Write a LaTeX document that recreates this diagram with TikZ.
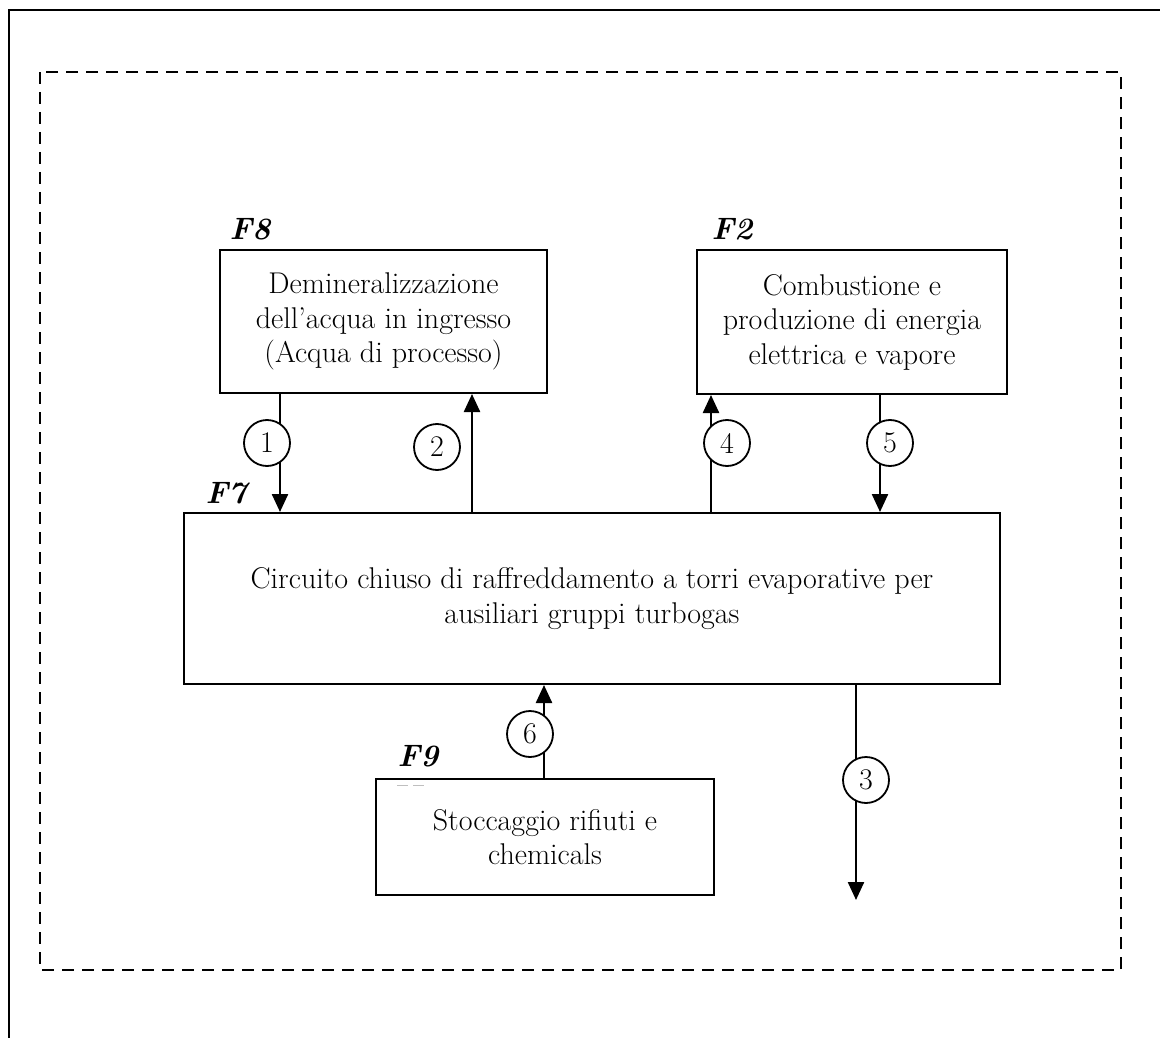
\documentclass[tikz,border=0pt]{standalone}
\usepackage{amssymb}
\usepackage{amsmath}
\usepackage{tikz}
\usetikzlibrary{arrows.meta}

\tikzset{
  caixa/.style={draw, line width=2pt, inner sep=0pt, align=center,
    font=\fontsize{30}{34.5}\selectfont},
  rotulo/.style={anchor=base west, font=\fontsize{31}{34}\selectfont\bfseries\itshape},
  fluxo/.style={line width=2.4pt, -{Triangle[width=16pt,length=18pt]}},
  numero/.style={draw, circle, fill=white, line width=1.8pt, minimum size=46pt,
    inner sep=0pt, font=\fontsize{30}{34}\selectfont}
}

\begin{document}
\begin{tikzpicture}[x=1pt, y=-1pt]
        \useasboundingbox (0,0) rectangle (1160,1038);
        % Moldura externa e limite tracejado
        \draw[line width=2.4pt] (9,1045) -- (9,10) -- (1170,10);
        \draw[line width=2.2pt, dash pattern=on 12pt off 8pt] (40,72) rectangle (1121,970);
        % Caixas das fases
        \node[caixa, minimum width=327pt, minimum height=143pt] (f8) at (383.5,321.5)
          {Demineralizzazione\\dell'acqua in ingresso\\(Acqua di processo)};
        \node[caixa, minimum width=310pt, minimum height=144pt] (f2) at (852,322)
          {Combustione e\\produzione di energia\\elettrica e vapore};
        \node[caixa, minimum width=816pt, minimum height=171pt] (f7) at (592,598.5)
          {Circuito chiuso di raffreddamento a torri evaporative per\\ausiliari gruppi turbogas};
        \node[caixa, minimum width=338pt, minimum height=116pt] (f9) at (545,837)
          {Stoccaggio rifiuti e\\chemicals};
        % Rótulos das fases
        \node[rotulo] (l8) at ([xshift=7pt, yshift=10pt]f8.north west) {F8};
        \node[rotulo] (l2) at ([xshift=12pt, yshift=10pt]f2.north west) {F2};
        \node[rotulo] (l7) at ([xshift=19pt, yshift=9pt]f7.north west) {F7};
        \node[rotulo] (l9) at ([xshift=19pt, yshift=12pt]f9.north west) {F9};
        \draw[gray!50, line width=0.8pt, dash pattern=on 11pt off 5pt] (397,785) -- (428,785);
        % Posições das setas
        \coordinate (x1) at (280,0);
        \coordinate (x2) at (472,0);
        \coordinate (x4) at (711,0);
        \coordinate (x5) at (880,0);
        \coordinate (x6) at (544,0);
        \coordinate (fim3) at (856,900);
        % Setas
        \draw[fluxo] (f8.south -| x1) -- (f7.north -| x1);
        \draw[fluxo] (f7.north -| x2) -- (f8.south -| x2);
        \draw[fluxo] (f7.north -| x4) -- (f2.south -| x4);
        \draw[fluxo] (f2.south -| x5) -- (f7.north -| x5);
        \draw[fluxo] (f9.north -| x6) -- (f7.south -| x6);
        \draw[fluxo] (f7.south -| fim3) -- (fim3);
        % Números dos fluxos
        \node[numero] (n1) at (267,443) {1};
        \node[numero] (n2) at (437,447) {2};
        \node[numero] (n4) at (727,443) {4};
        \node[numero] (n5) at (890,443) {5};
        \node[numero] (n6) at (530,734) {6};
        \node[numero] (n3) at (866,780) {3};
\end{tikzpicture}
\end{document}
